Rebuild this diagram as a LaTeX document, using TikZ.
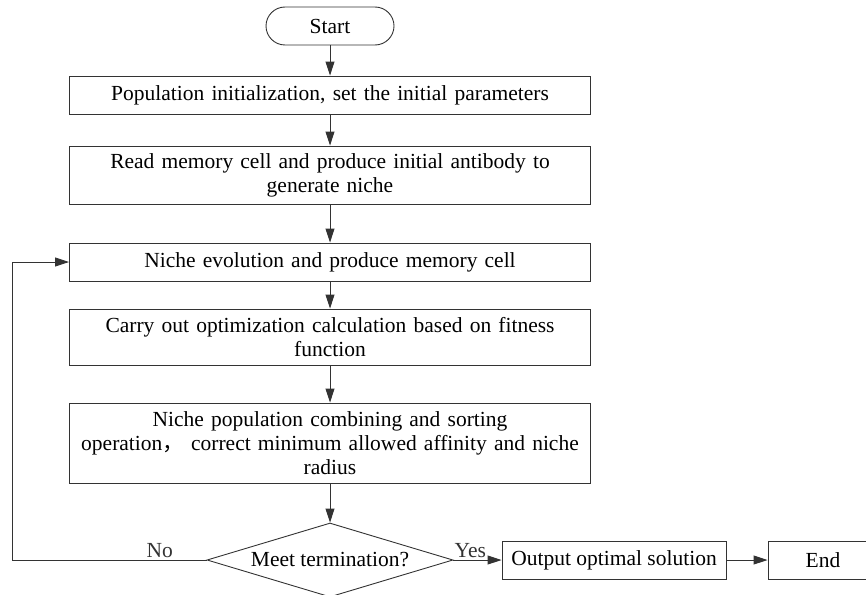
\documentclass[tikz,border=0pt]{standalone}
\usepackage{fontspec}
\setmainfont{Liberation Serif}
\newfontfamily\cjk{Noto Sans CJK SC}
\usetikzlibrary{arrows.meta, positioning, shapes.geometric}
\definecolor{flowline}{HTML}{333333}

\begin{document}
\begin{tikzpicture}[x=1pt, y=-1pt,
    font=\fontsize{21.5}{24}\selectfont,
    box/.style={draw=flowline, line width=0.9pt, align=center, text width=516pt, minimum width=521pt, inner sep=0pt},
    term/.style={draw=flowline, line width=0.9pt, rounded corners=19pt, minimum width=128pt, minimum height=38pt},
    dec/.style={draw=flowline, line width=0.9pt, diamond, aspect=3.3, inner sep=0pt, minimum width=246pt, minimum height=74pt},
    arr/.style={-{Triangle[length=14pt, width=9pt]}, flowline, line width=0.9pt},
    lbl/.style={inner sep=2pt}]

  \useasboundingbox (0,0) rectangle (866,594);

  \node[term] (start) at (330,26) {Start};
  \node[box, minimum height=38pt] (init) at (330,95) {Population initialization, set the initial parameters};
  \node[box, minimum height=58pt] (read) at (330,175) {Read memory cell and produce initial antibody to\\generate niche};
  \node[box, minimum height=38pt] (evol) at (330,262) {Niche evolution and produce memory cell};
  \node[box, minimum height=56pt] (calc) at (330,337) {Carry out optimization calculation based on fitness\\function};
  \node[box, minimum height=80pt] (sort) at (330,443) {Niche population combining and sorting\\operation{\cjk ，} correct minimum allowed affinity and niche\\radius};
  \node[dec] (meet) at (330,560) {Meet termination?};
  \node[draw=flowline, line width=0.9pt, minimum width=224pt, minimum height=38pt] (out) at (614,560) {Output optimal solution};
  \node[draw=flowline, line width=0.9pt, minimum width=110pt, minimum height=38pt] (stop) at (823,560) {End};
  \coordinate (back) at (12,560);

  \draw[arr] (start) -- (init);
  \draw[arr] (init) -- (read);
  \draw[arr] (read) -- (evol);
  \draw[arr] (evol) -- (calc);
  \draw[arr] (calc) -- (sort);
  \draw[arr] (sort) -- (meet);
  \draw[arr] (meet.east) -- node[lbl, above, pos=0.35] {Yes} (out.west);
  \draw[arr] (out) -- (stop);
  \draw[arr] (meet.west) -- node[lbl, above, pos=0.24] {No} (back) |- (evol.west);
\end{tikzpicture}
\end{document}
